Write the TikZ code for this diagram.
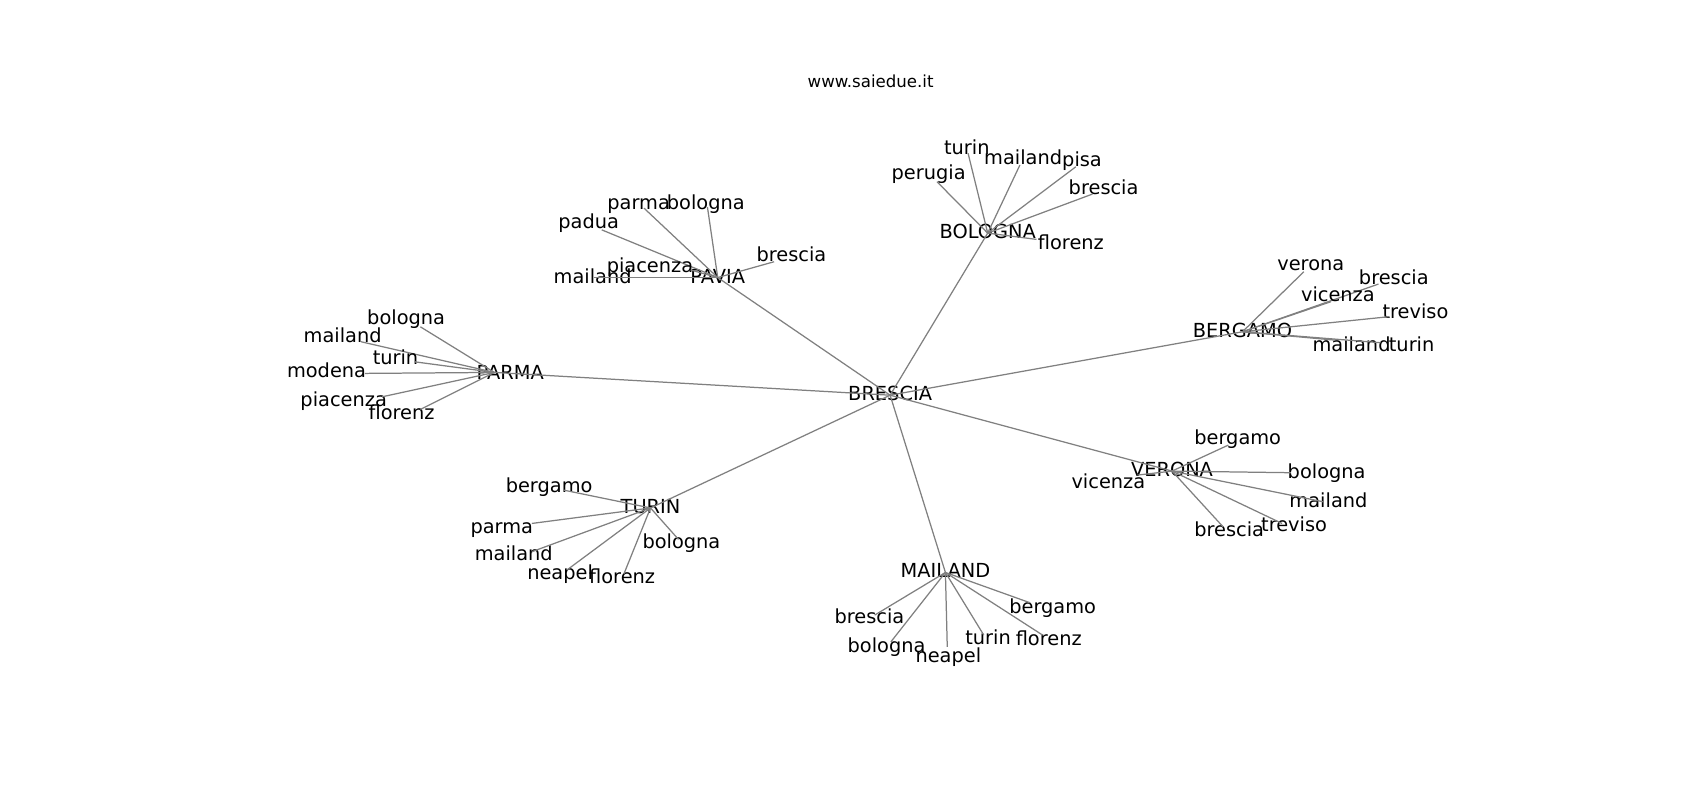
\documentclass[tikz,border=0pt]{standalone}
\usepackage{fontspec}
\setmainfont{DejaVu Sans}

\begin{document}
\begin{tikzpicture}[x=0.2754mm, y=-0.2754mm,
  city/.style = {font=\fontsize{14}{16}\selectfont, inner sep=0pt, text height=0.9em, text depth=0.1em},
  link/.style = {draw=black!50, line width=0.9pt}]
  \useasboundingbox (0,0) rectangle (1568,738);
  \node[font=\fontsize{12}{14}\selectfont] (title) at (803,75) {www.saiedue.it};

  % hubs
  \node[city] (brescia) at (821,364.5) {BRESCIA};
  \node[city] (pavia) at (662,256) {PAVIA};
  \node[city] (bologna) at (911,215) {BOLOGNA};
  \node[city] (bergamo) at (1146,306) {BERGAMO};
  \coordinate (parma-hub) at (456,343.5);
  \node[city] (parma) at (470.6,345) {PARMA};
  \node[city] (turin) at (600,468.5) {TURIN};
  \node[city] (mailand) at (872,528) {MAILAND};
  \node[city] (verona) at (1081,434.5) {VERONA};

  \draw[link] (brescia.center) -- (pavia.center);
  \draw[link] (brescia.center) -- (bologna.center);
  \draw[link] (brescia.center) -- (bergamo.center);
  \draw[link] (brescia.center) -- (parma-hub);
  \draw[link] (brescia.center) -- (turin.center);
  \draw[link] (brescia.center) -- (mailand.center);
  \draw[link] (brescia.center) -- (verona.center);

  % leaves of pavia
  \foreach \n/\lbl/\x/\y/\ex/\ey in {pv-parma/parma/589/188/594/192, pv-bologna/bologna/651/188/652.5/191,
      pv-padua/padua/543/206/555/212, pv-piacenza/piacenza/599.5/246/637/249,
      pv-mailand/mailand/546.6/256/548/256, pv-brescia/brescia/730/236/714/241.4}{
    \node[city] (\n) at (\x,\y) {\lbl};
    \coordinate (\n-end) at (\ex,\ey);
    \draw[link] (pavia.center) -- (\n-end);
  }

  % leaves of parma
  \foreach \n/\lbl/\x/\y/\ex/\ey in {pr-bologna/bologna/374.6/294.6/387.7/301.4, pr-mailand/mailand/316/310.6/333/315.2,
      pr-turin/turin/364.8/331.2/382.5/333.7, pr-modena/modena/301.2/343/336.5/344.4,
      pr-piacenza/piacenza/317/369.6/352.4/366, pr-florenz/florenz/370.4/382/387.7/377.6}{
    \node[city] (\n) at (\x,\y) {\lbl};
    \coordinate (\n-end) at (\ex,\ey);
    \draw[link] (parma-hub) -- (\n-end);
  }

  % leaves of bologna
  \foreach \n/\lbl/\x/\y/\ex/\ey in {bo-turin/turin/891.7/137.7/892.9/141.4, bo-mailand/mailand/943.7/147/940.7/152.2,
      bo-pisa/pisa/998/148.2/992.3/153.8, bo-perugia/perugia/856.5/160.5/864.2/167.6,
      bo-brescia/brescia/1017.9/174.6/1007.6/179, bo-florenz/florenz/987.7/225/956/220.8}{
    \node[city] (\n) at (\x,\y) {\lbl};
    \coordinate (\n-end) at (\ex,\ey);
    \draw[link] (bologna.center) -- (\n-end);
  }

  % leaves of bergamo
  \foreach \n/\lbl/\x/\y/\ex/\ey in {bg-verona/verona/1209/244.5/1202.6/250.6, bg-brescia/brescia/1285.6/257.7/1271.4/262,
      bg-vicenza/vicenza/1234/273/1227.5/278.3, bg-treviso/treviso/1305.5/288.4/1281/292.1,
      bg-mailand/mailand/1246.6/319.2/1231.3/313.7, bg-turin/turin/1302/319.2/1273.3/316.1}{
    \node[city] (\n) at (\x,\y) {\lbl};
    \coordinate (\n-end) at (\ex,\ey);
    \draw[link] (bergamo.center) -- (\n-end);
  }

  % leaves of turin
  \foreach \n/\lbl/\x/\y/\ex/\ey in {tu-bergamo/bergamo/506.5/449.6/519.7/452, tu-parma/parma/462.8/486.8/490.5/482.8,
      tu-mailand/mailand/473.9/512/490.5/508.9, tu-neapel/neapel/516.6/529.8/522.8/525.8,
      tu-florenz/florenz/573.8/533.5/575.6/529, tu-bologna/bologna/628.5/501.2/625.8/497.5}{
    \node[city] (\n) at (\x,\y) {\lbl};
    \coordinate (\n-end) at (\ex,\ey);
    \draw[link] (turin.center) -- (\n-end);
  }

  % leaves of mailand
  \foreach \n/\lbl/\x/\y/\ex/\ey in {ma-brescia/brescia/801.9/570.4/806.8/567.3, ma-bologna/bologna/817.7/596.6/821.7/592,
      ma-neapel/neapel/874.7/606.4/873.7/596.6, ma-turin/turin/911.3/588.9/907.4/585.8,
      ma-florenz/florenz/967.3/589.8/961.7/585.8, ma-bergamo/bergamo/970.9/561.2/950.2/556}{
    \node[city] (\n) at (\x,\y) {\lbl};
    \coordinate (\n-end) at (\ex,\ey);
    \draw[link] (mailand.center) -- (\n-end);
  }

  % leaves of verona
  \foreach \n/\lbl/\x/\y/\ex/\ey in {vr-bergamo/bergamo/1141.6/405.3/1133/410.5, vr-bologna/bologna/1223.6/436/1190.7/436,
      vr-mailand/mailand/1225.3/462.8/1220.4/462.8, vr-treviso/treviso/1193.6/485.2/1182.5/482.8,
      vr-brescia/brescia/1133.7/489.6/1128.1/485.9, vr-vicenza/vicenza/1022.3/445.3/1049/438.2}{
    \node[city] (\n) at (\x,\y) {\lbl};
    \coordinate (\n-end) at (\ex,\ey);
    \draw[link] (verona.center) -- (\n-end);
  }
\end{tikzpicture}
\end{document}
